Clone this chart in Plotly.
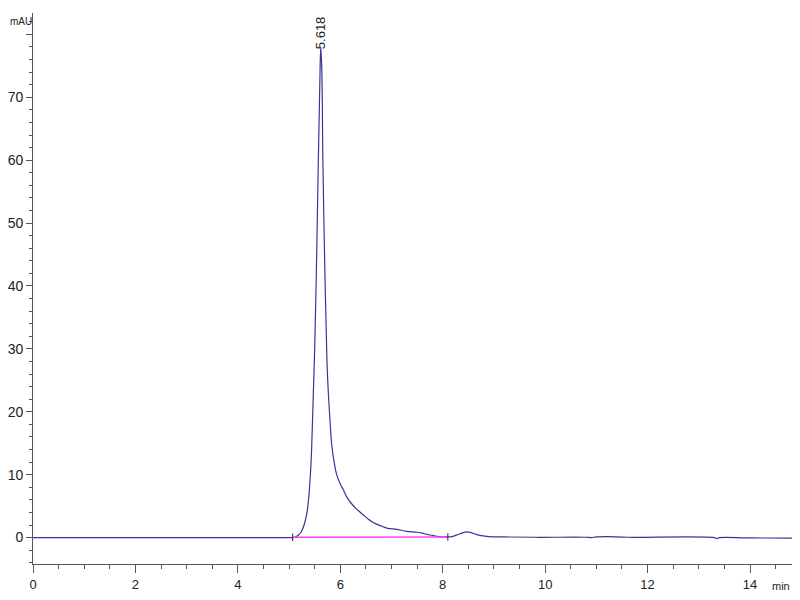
import plotly.graph_objects as go

# chromatogram (time in min, signal in mAU)
time_min = [0.0, 2.0, 4.0, 5.0, 5.1, 5.15, 5.2, 5.25, 5.3, 5.35, 5.38, 5.42, 5.44, 5.47,
            5.5, 5.53, 5.57, 5.6, 5.618, 5.64, 5.66, 5.7, 5.74, 5.77, 5.8, 5.83, 5.88,
            5.93, 6.0, 6.06, 6.13, 6.25, 6.35, 6.45, 6.55, 6.64, 6.78, 6.91, 7.1, 7.3,
            7.5, 7.6, 7.69, 7.8, 7.88, 8.0, 8.1, 8.2, 8.3, 8.4, 8.47, 8.55, 8.65, 8.75,
            8.9, 9.2, 9.8, 10.8, 10.9, 11.0, 11.2, 11.6, 13.3, 13.35, 13.4, 14.0, 14.94]
signal = [0.0, 0.0, 0.0, 0.0, 0.02, 0.2, 0.5, 1.1, 2.2, 4.0, 6.0, 10.5, 14.0, 21.9,
          30.0, 41.0, 59.5, 72.0, 78.0, 74.0, 60.0, 42.0, 28.0, 22.5, 18.5, 15.0, 12.0,
          10.0, 8.5, 7.6, 6.4, 5.1, 4.3, 3.6, 2.9, 2.4, 1.9, 1.5, 1.3, 1.0,
          0.85, 0.7, 0.5, 0.35, 0.2, 0.12, 0.1, 0.2, 0.5, 0.8, 0.9, 0.8, 0.5, 0.3,
          0.15, 0.1, 0.05, 0.05, 0.0, 0.1, 0.15, 0.05, 0.0, -0.15, 0.0, -0.05, -0.1]

# integration baseline of the main peak
base_t = [5.07, 8.1]
base_v = [0.05, 0.1]
peak_rt = 5.618
peak_h = 78.0

x_ticks = [0, 2, 4, 6, 8, 10, 12, 14]
y_ticks = [0, 10, 20, 30, 40, 50, 60, 70, 80]
y_labels = ['0', '10', '20', '30', '40', '50', '60', '70', '']

font_name = 'Liberation Sans, Arial'

fig = go.Figure()
fig.add_trace(go.Scatter(x=time_min, y=signal, mode='lines', line_shape='spline',
                         line=dict(color='#36369a', width=1.2), showlegend=False))
fig.add_trace(go.Scatter(x=base_t, y=base_v, mode='lines',
                         line=dict(color='#ff44ff', width=1.5), showlegend=False))
# start/stop markers of the integration
for t, v in zip(base_t, base_v):
    fig.add_trace(go.Scatter(x=[t, t], y=[v - 0.6, v + 0.6], mode='lines',
                             line=dict(color='#222244', width=1), showlegend=False))

fig.add_annotation(x=peak_rt, y=peak_h, text='5.618', textangle=-90, showarrow=False,
                   xanchor='center', yanchor='bottom', yshift=-4,
                   font=dict(family=font_name, size=13, color='#222'))
fig.add_annotation(xref='paper', yref='paper', x=-25 / 759, y=1.0, text='mAU',
                   showarrow=False, xanchor='left', yanchor='top', yshift=-1,
                   font=dict(family=font_name, size=10, color='#222'))
fig.add_annotation(xref='paper', yref='paper', x=1.0, y=0, text='min',
                   showarrow=False, xanchor='right', yanchor='top', yshift=-14,
                   font=dict(family=font_name, size=11, color='#222'))

fig.update_xaxes(range=[0, 14.82], tickvals=x_ticks, ticks='outside', ticklen=8,
                 tickcolor='#555', showline=True, linecolor='#555', linewidth=1,
                 showgrid=False, zeroline=False, automargin=False,
                 minor=dict(dtick=0.5, ticks='outside', ticklen=4, tickcolor='#555'),
                 tickfont=dict(family=font_name, size=13, color='#222'))
fig.update_yaxes(range=[-4.2, 83.4], tickvals=y_ticks, ticktext=y_labels,
                 ticks='outside', ticklen=6, tickcolor='#555', showline=True,
                 linecolor='#555', linewidth=1, showgrid=False, zeroline=False,
                 automargin=False,
                 minor=dict(dtick=2, ticks='outside', ticklen=3, tickcolor='#555'),
                 tickfont=dict(family=font_name, size=14, color='#222'))

# the page body adds 8px around the figure, so keep it inside the 800x600 window
fig.update_layout(width=784, height=584, plot_bgcolor='white', paper_bgcolor='white',
                  margin=dict(l=25, r=0, t=5, b=28))

fig.write_html('out.html')
